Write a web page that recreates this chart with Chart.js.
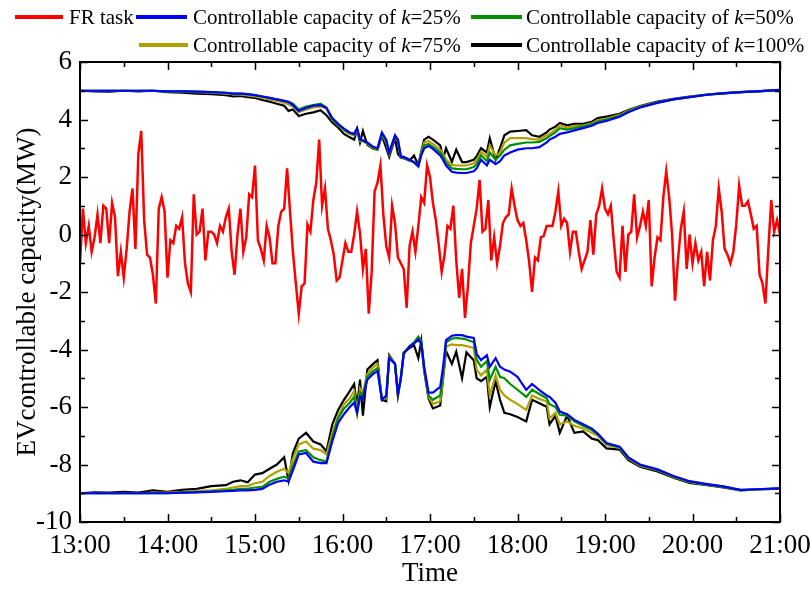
<!DOCTYPE html>
<html>
<head>
<meta charset="utf-8">
<script src="https://cdn.jsdelivr.net/npm/chart.js@4.4.1/dist/chart.umd.min.js"></script>
<style>
  body { margin: 0; background: #fff; }
  #wrap { position: relative; width: 810px; height: 590px; font-family: "Liberation Serif", "Times New Roman", serif; }
  #wrap canvas { position: absolute; left: 0; top: 0; }
  .lg-line { position: absolute; height: 4px; }
  .lg-text { position: absolute; font-size: 21px; line-height: 24px; color: #000; white-space: nowrap; }
</style>
</head>
<body>
<div id="wrap">
  <canvas id="grafica" width="810" height="590"></canvas>
  <div id="leyenda"></div>
</div>
<script>
// tiempo en minutos desde las 13:00
const horaInicio = 13;
const tickHoras = [0, 60, 120, 180, 240, 300, 360, 420, 480];
const tickY = [-10, -8, -6, -4, -2, 0, 2, 4, 6];

// FR task, muestreado cada 2 minutos
const frPaso = 2;
const frValor = [
  -1.0, 0.9, -0.3, 0.3, -0.6, -0.1, 0.7, -0.3, 1.0, 0.9,
  -0.3, 1.1, 0.6, -1.45, -0.6, -1.5, -0.5, 0.8, 1.6, -0.5,
  2.8, 3.6, 0.5, -0.7, -0.8, -1.4, -2.4, 0.9, 1.3, 0.8,
  -1.5, -0.2, -0.3, 0.3, 0.2, 0.6, -1.0, -1.7, -2.0, 1.4,
  0.0, 0.1, 0.9, -0.9, 0.1, 0.1, 0.0, -0.3, 0.3, 0.1,
  0.6, 0.9, -0.6, -1.4, 0.0, 0.9, -0.6, -0.1, 1.4, 1.3,
  2.4,
  -0.2, -0.5, -0.9, 0.3, -0.1, -1.0, -1.0, 0.3, 0.8, 0.9,
  2.3, 0.8, -0.6, -1.7, -2.75, -1.8, -1.7, 0.35, 0.1, 1.2,
  1.8, 3.3, 1.0, 1.6, 0.2, -0.2, -0.7, -1.6, -1.5, -0.9,
  -0.3, -0.6, -0.6, 0.0, 0.8, 0.05, -1.2, -0.5, -2.75, -1.3,
  1.5, 1.8, 2.4, 0.7, -0.4, -0.8, 1.0, 0.4, -0.8, -1.0,
  -1.2, -2.55, -0.4, 0.1, -0.6, 0.3, 1.3, 1.1, 2.4,
  2.0, 1.1, 0.5, -0.35, -1.3, -0.7, 0.3, 0.2, 1.0, -0.9,
  -2.2, -1.2, -2.9, -1.8, -0.3, 0.3, 0.9, 1.9, 0.1, 0.2,
  1.2, -0.9, -0.1, -1.0, -0.4, 0.4, 0.6, 0.7, 1.6, 1.0,
  0.5, 0.3, 0.4, -0.2, -0.95, -2.0, -0.8, -0.9, -0.1, -0.05,
  0.3, 0.3, 0.3, 0.8, 1.5, 0.3, 0.55, 0.4, -0.6, 0.1,
  0.1, -0.6, -1.2, -0.9, -0.6, 0.5, -0.7, 0.7, 1.0, 1.6,
  0.9, 0.7, 1.0, -0.2, -1.3, -1.5, 0.3, -1.3, 0.0, 0.1,
  1.4, -0.1, 0.3, 0.8, 0.3, 1.2, -1.8, -0.8, -0.1, -0.2,
  1.3, 2.2, 1.3, 0.0, -2.3, -0.9, 0.2, 0.8, -1.2, 0.0,
  -1.0, -0.3, -0.9, -0.6, -1.8, -0.6, -1.6, -0.2, 0.3, 1.6,
  0.8, -0.5, -0.7, -1.0, -0.6, 0.35, 1.7, 1.0, 1.0, 1.15,
  0.7, 0.2, 0.3, -1.4, -1.7, -2.4, -0.5, 1.2, 0.1, 0.5,
  0.0
];

// capacidad controlable: instantes de muestreo (min)
const capTiempo = [
  0, 10, 20, 30, 40, 50, 60, 70, 80, 90,
  100, 105, 110, 115, 120, 125, 130, 135, 140, 143,
  146, 150, 155, 160, 165, 169, 173, 177, 181, 185,
  188, 190, 192, 194, 197, 201, 204, 207, 210, 212,
  216, 218, 220, 222, 226, 229, 232, 234, 236, 239,
  242, 247, 249, 251, 255, 258, 262, 265, 270, 272,
  275, 279, 281, 285, 288, 291, 295, 300, 306, 310,
  315, 320, 322, 326, 329, 334, 339, 345, 351, 355,
  361, 370, 376, 384, 396, 407, 418, 430, 441, 453,
  464, 480
];

// banda superior
const sup25 = [
  5.0, 5.0, 5.0, 5.0, 5.0, 5.0, 4.98, 4.98, 4.97, 4.95,
  4.93, 4.9, 4.9, 4.88, 4.85, 4.8, 4.75, 4.7, 4.65, 4.6,
  4.5, 4.3, 4.4, 4.48, 4.5, 4.4, 4.05, 3.85, 3.68, 3.55,
  3.5, 3.7, 3.3, 3.28, 3.2, 3.05, 3.0, 3.55, 3.3, 2.85,
  3.45, 3.3, 2.72, 2.7, 2.6, 2.52, 2.38, 2.75, 3.0, 3.08,
  2.98, 2.75, 2.6, 2.4, 2.18, 2.15, 2.14, 2.14, 2.2, 2.3,
  2.6, 2.4, 2.6, 2.45, 2.55, 2.75, 2.85, 2.95, 3.0, 3.0,
  3.04, 3.2, 3.3, 3.4, 3.5, 3.55, 3.62, 3.7, 3.78, 3.88,
  3.95, 4.1, 4.25, 4.42, 4.58, 4.7, 4.78, 4.86, 4.91, 4.95,
  4.98, 5.03
];
const sup50 = [
  5.0, 5.0, 5.0, 5.0, 5.0, 5.0, 4.98, 4.98, 4.97, 4.95,
  4.93, 4.9, 4.9, 4.88, 4.85, 4.8, 4.75, 4.7, 4.65, 4.62,
  4.55, 4.35, 4.45, 4.5, 4.55, 4.42, 4.0, 3.82, 3.65, 3.52,
  3.48, 3.68, 3.28, 3.25, 3.18, 3.02, 2.98, 3.5, 3.25, 2.83,
  3.42, 3.28, 2.7, 2.68, 2.58, 2.5, 2.36, 2.8, 3.1, 3.15,
  3.05, 2.85, 2.7, 2.5, 2.3, 2.28, 2.27, 2.27, 2.35, 2.45,
  2.75, 2.55, 2.85, 2.6, 2.75, 2.95, 3.1, 3.15, 3.2, 3.2,
  3.22, 3.35, 3.42, 3.55, 3.7, 3.65, 3.7, 3.76, 3.83, 3.93,
  4.0, 4.13, 4.28, 4.43, 4.59, 4.7, 4.78, 4.86, 4.91, 4.95,
  4.98, 5.03
];
const sup75 = [
  5.0, 5.0, 5.0, 5.0, 5.0, 5.0, 4.98, 4.97, 4.95, 4.93,
  4.9, 4.88, 4.86, 4.84, 4.8, 4.75, 4.7, 4.65, 4.58, 4.52,
  4.45, 4.25, 4.35, 4.42, 4.45, 4.38, 3.98, 3.8, 3.62, 3.5,
  3.45, 3.65, 3.25, 3.25, 3.15, 3.0, 2.96, 3.48, 3.2, 2.8,
  3.4, 3.25, 2.7, 2.68, 2.58, 2.52, 2.4, 2.85, 3.2, 3.25,
  3.15, 2.95, 2.8, 2.6, 2.42, 2.4, 2.4, 2.4, 2.48, 2.58,
  2.88, 2.7, 3.1, 2.75, 2.85, 3.2, 3.35, 3.35, 3.35, 3.32,
  3.3, 3.45, 3.5, 3.65, 3.8, 3.72, 3.78, 3.8, 3.87, 3.97,
  4.03, 4.16, 4.3, 4.45, 4.6, 4.71, 4.79, 4.86, 4.91, 4.95,
  4.98, 5.02
];
const sup100 = [
  5.0, 4.98, 4.97, 5.0, 4.98, 5.0, 4.95, 4.93, 4.9, 4.88,
  4.85, 4.8, 4.82, 4.78, 4.75, 4.68, 4.62, 4.55, 4.48, 4.3,
  4.35, 4.12, 4.2, 4.25, 4.32, 4.15, 3.9, 3.72, 3.5, 3.38,
  3.3, 3.65, 3.2, 3.6, 3.12, 2.98, 2.95, 3.45, 3.0, 2.7,
  3.35, 2.8, 2.68, 2.65, 2.57, 2.75, 2.42, 2.9, 3.3, 3.4,
  3.3, 3.1, 2.65, 3.0, 2.53, 2.95, 2.52, 2.52, 2.6, 2.72,
  3.0, 2.85, 3.35, 2.6, 3.0, 3.45, 3.58, 3.6, 3.63, 3.45,
  3.4, 3.55, 3.65, 3.75, 3.88, 3.8, 3.85, 3.85, 3.92, 4.05,
  4.1, 4.2, 4.33, 4.47, 4.62, 4.72, 4.8, 4.87, 4.92, 4.95,
  4.98, 5.02
];

// banda inferior
const inf25 = [
  -9.0, -9.0, -9.0, -9.0, -9.0, -9.0, -9.0, -8.98, -8.97, -8.95,
  -8.93, -8.92, -8.9, -8.9, -8.88, -8.85, -8.7, -8.6, -8.55, -8.6,
  -8.2, -7.65, -7.6, -7.9, -7.95, -7.95, -7.2, -6.55, -6.25, -6.0,
  -5.85, -6.2, -5.65, -5.7, -5.05, -4.85, -4.75, -5.75, -5.6, -4.3,
  -4.5, -5.55, -5.0, -4.15, -3.9, -3.8, -3.65, -3.8, -4.6, -5.5,
  -5.5, -5.3, -4.6, -3.67, -3.52, -3.5, -3.5, -3.55, -3.6, -4.15,
  -4.37, -4.2, -4.6, -4.3, -4.6, -4.7, -4.77, -4.95, -5.4, -5.2,
  -5.41, -5.6, -5.65, -5.85, -6.16, -6.25, -6.45, -6.6, -6.75, -6.92,
  -7.25, -7.38, -7.75, -8.0, -8.17, -8.4, -8.58, -8.68, -8.76, -8.88,
  -8.86, -8.83
];
const inf50 = [
  -9.0, -9.0, -9.0, -9.0, -9.0, -9.0, -9.0, -8.98, -8.96, -8.93,
  -8.9, -8.88, -8.85, -8.85, -8.8, -8.78, -8.6, -8.5, -8.42, -8.5,
  -8.05, -7.55, -7.5, -7.75, -7.85, -7.9, -7.05, -6.4, -6.05, -5.85,
  -5.65, -6.2, -5.5, -5.6, -4.95, -4.75, -4.65, -5.7, -5.65, -4.28,
  -4.5, -5.55, -5.0, -4.12, -3.88, -3.75, -3.55, -3.7, -4.65, -5.6,
  -5.75, -5.6, -4.8, -3.75, -3.62, -3.6, -3.62, -3.65, -3.75, -4.35,
  -4.6, -4.4, -5.05, -4.6, -4.95, -5.0, -5.2, -5.4, -5.65, -5.4,
  -5.55, -5.7, -5.9, -6.0, -6.27, -6.3, -6.5, -6.65, -6.8, -6.95,
  -7.28, -7.4, -7.77, -8.02, -8.19, -8.42, -8.6, -8.69, -8.77, -8.89,
  -8.86, -8.83
];
const inf75 = [
  -9.0, -9.0, -9.0, -9.0, -9.0, -8.98, -8.98, -8.95, -8.92, -8.9,
  -8.85, -8.8, -8.75, -8.75, -8.65, -8.6, -8.4, -8.25, -8.15, -8.3,
  -7.8, -7.3, -7.2, -7.45, -7.5, -7.65, -6.9, -6.3, -5.9, -5.7,
  -5.45, -6.2, -5.35, -5.5, -4.85, -4.62, -4.5, -5.7, -5.7, -4.25,
  -4.5, -5.6, -5.0, -4.12, -3.9, -3.78, -3.62, -3.75, -4.7, -5.65,
  -5.9, -5.8, -4.95, -3.9, -3.82, -3.85, -3.85, -3.88, -3.95, -4.7,
  -4.9, -4.7, -5.6, -4.9, -5.4, -5.6, -5.75, -5.9, -6.1, -5.6,
  -5.72, -5.8, -6.4, -6.2, -6.6, -6.5, -6.65, -6.75, -6.9, -7.0,
  -7.32, -7.42, -7.8, -8.04, -8.2, -8.43, -8.61, -8.7, -8.78, -8.89,
  -8.87, -8.84
];
const inf100 = [
  -9.0, -8.97, -8.98, -8.95, -8.98, -8.9, -8.95, -8.88, -8.85, -8.75,
  -8.72, -8.6, -8.55, -8.62, -8.35, -8.3, -8.15, -8.0, -7.75, -8.55,
  -7.6, -7.1, -6.9, -7.2, -7.3, -7.55, -6.6, -6.1, -5.75, -5.45,
  -5.2, -6.0, -5.05, -6.3, -4.7, -4.5, -4.37, -5.75, -5.8, -4.2,
  -4.5, -5.6, -5.0, -4.1, -3.95, -3.85, -4.3, -3.7, -4.75, -5.7,
  -6.05, -5.95, -5.0, -4.05, -4.5, -4.08, -5.0, -4.1, -4.37, -5.0,
  -5.1, -4.95, -6.0, -5.1, -5.75, -6.2, -6.25, -6.35, -6.5, -5.75,
  -5.87, -5.99, -6.6, -6.3, -6.9, -6.3, -6.9, -6.85, -7.1, -7.15,
  -7.44, -7.48, -7.85, -8.08, -8.24, -8.46, -8.64, -8.72, -8.8, -8.9,
  -8.87, -8.84
];

const fuente = '"Liberation Serif", "Times New Roman", serif';
const colores = {
  fr: '#ff0000',
  k25: '#0000ff',
  k50: '#009000',
  k75: '#b0a000',
  k100: '#000000'
};

// instantes del FR task
const frTiempo = frValor.map((v, i) => i * frPaso);

function puntos(tiempos, valores) {
  return tiempos.map((t, i) => ({ x: t, y: valores[i] }));
}

function serie(etiqueta, color, tiempos, valores, ancho) {
  return {
    label: etiqueta,
    data: puntos(tiempos, valores),
    borderColor: color,
    backgroundColor: color,
    borderWidth: ancho,
    pointRadius: 0,
    tension: 0,
    fill: false
  };
}

// marcos y ticks hacia dentro en los cuatro lados
const marcoPlugin = {
  id: 'marco',
  afterDatasetsDraw(chart) {
    const ctx = chart.ctx;
    const a = chart.chartArea;
    const sx = chart.scales.x;
    const sy = chart.scales.y;
    ctx.save();
    ctx.strokeStyle = '#000';
    ctx.lineWidth = 1.5;
    ctx.beginPath();
    for (let v = 0; v <= 480; v += 30) {
      const px = Math.round(sx.getPixelForValue(v)) + 0.5;
      const largo = v % 60 === 0 ? 8 : 5;
      ctx.moveTo(px, a.bottom); ctx.lineTo(px, a.bottom - largo);
      ctx.moveTo(px, a.top); ctx.lineTo(px, a.top + largo);
    }
    for (let v = -10; v <= 6; v += 1) {
      const py = Math.round(sy.getPixelForValue(v)) + 0.5;
      const largo = v % 2 === 0 ? 8 : 5;
      ctx.moveTo(a.left, py); ctx.lineTo(a.left + largo, py);
      ctx.moveTo(a.right, py); ctx.lineTo(a.right - largo, py);
    }
    ctx.stroke();
    ctx.lineWidth = 2;
    ctx.strokeRect(a.left, a.top, a.right - a.left, a.bottom - a.top);
    ctx.restore();
  }
};

new Chart(document.getElementById('grafica'), {
  type: 'line',
  data: {
    datasets: [
      serie('FR task', colores.fr, frTiempo, frValor, 2.5),
      serie('k=25%', colores.k25, capTiempo, sup25, 2.2),
      serie('k=25% inf', colores.k25, capTiempo, inf25, 2.2),
      serie('k=50%', colores.k50, capTiempo, sup50, 2.2),
      serie('k=50% inf', colores.k50, capTiempo, inf50, 2.2),
      serie('k=75%', colores.k75, capTiempo, sup75, 2.2),
      serie('k=75% inf', colores.k75, capTiempo, inf75, 2.2),
      serie('k=100%', colores.k100, capTiempo, sup100, 2.2),
      serie('k=100% inf', colores.k100, capTiempo, inf100, 2.2)
    ]
  },
  options: {
    responsive: false,
    animation: false,
    devicePixelRatio: 1,
    layout: { padding: { top: 62, right: 30, left: 0, bottom: 0 } },
    plugins: {
      legend: { display: false },
      tooltip: { enabled: false }
    },
    scales: {
      x: {
        type: 'linear',
        min: 0,
        max: 480,
        grid: { display: false, drawTicks: false },
        border: { display: false },
        afterBuildTicks(s) { s.ticks = tickHoras.map(v => ({ value: v })); },
        afterFit(s) { s.height = 68; s.paddingLeft = 0; s.paddingRight = 0; },
        ticks: {
          autoSkip: false,
          maxRotation: 0,
          padding: 8,
          color: '#000',
          font: { family: fuente, size: 27 },
          callback: v => (horaInicio + v / 60) + ':00'
        },
        title: {
          display: true,
          text: 'Time',
          color: '#000',
          font: { family: fuente, size: 27 },
          padding: { top: 0, bottom: 0 }
        }
      },
      y: {
        min: -10,
        max: 6,
        grid: { display: false, drawTicks: false },
        border: { display: false },
        afterBuildTicks(s) { s.ticks = tickY.map(v => ({ value: v })); },
        afterFit(s) { s.width = 80; s.paddingTop = 0; s.paddingBottom = 0; },
        ticks: {
          padding: 8,
          color: '#000',
          font: { family: fuente, size: 27 }
        },
        title: {
          display: true,
          text: 'EVcontrollable capacity(MW)',
          color: '#000',
          font: { family: fuente, size: 27 },
          padding: { top: 12, bottom: 0 }
        }
      }
    }
  },
  plugins: [marcoPlugin]
});

// leyenda en dos filas, con la k en cursiva
const leyenda = [
  { color: colores.fr, texto: 'FR task', linea: [15, 63], xTexto: 69, fila: 17 },
  { color: colores.k25, texto: 'Controllable capacity of <i>k</i>=25%', linea: [136, 187], xTexto: 193, fila: 17 },
  { color: colores.k50, texto: 'Controllable capacity of <i>k</i>=50%', linea: [471, 522], xTexto: 526, fila: 17 },
  { color: colores.k75, texto: 'Controllable capacity of <i>k</i>=75%', linea: [139, 188], xTexto: 193, fila: 45 },
  { color: colores.k100, texto: 'Controllable capacity of <i>k</i>=100%', linea: [471, 522], xTexto: 526, fila: 45 }
];
const contLeyenda = document.getElementById('leyenda');
leyenda.forEach(item => {
  const l = document.createElement('div');
  l.className = 'lg-line';
  l.style.left = item.linea[0] + 'px';
  l.style.width = (item.linea[1] - item.linea[0]) + 'px';
  l.style.top = (item.fila - 2) + 'px';
  l.style.background = item.color;
  contLeyenda.appendChild(l);
  const t = document.createElement('div');
  t.className = 'lg-text';
  t.style.left = item.xTexto + 'px';
  t.style.top = (item.fila - 12) + 'px';
  t.innerHTML = item.texto;
  contLeyenda.appendChild(t);
});
</script>
</body>
</html>
